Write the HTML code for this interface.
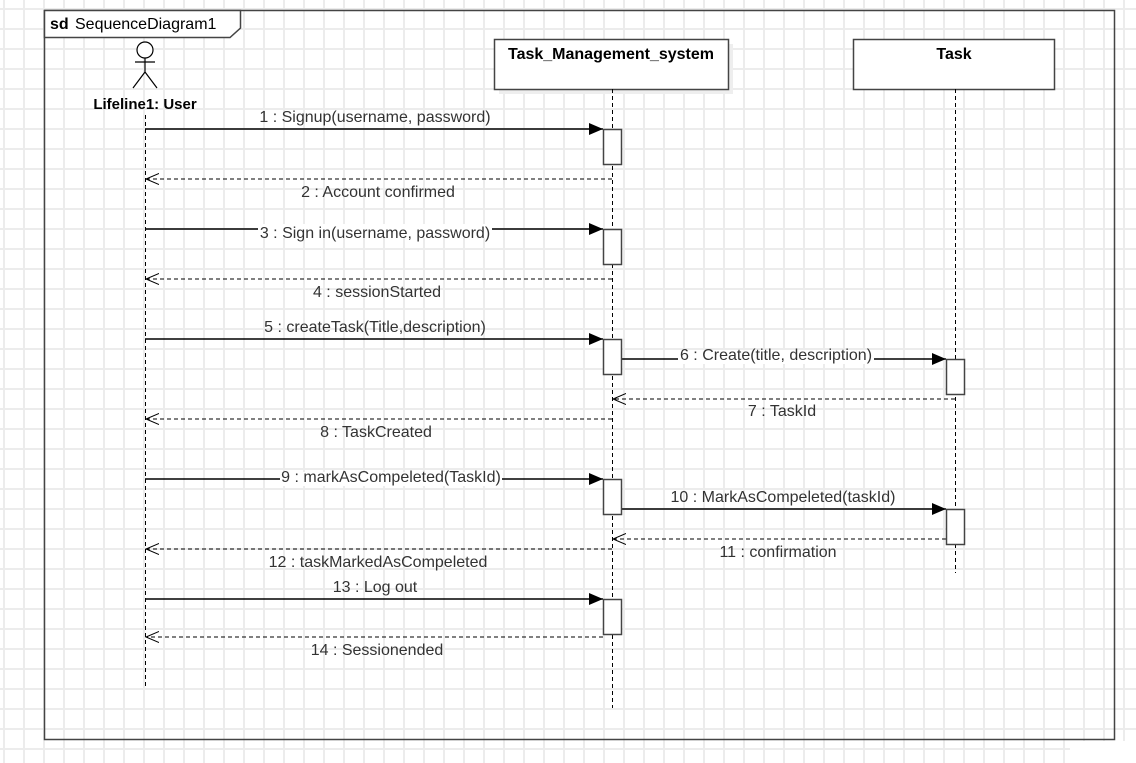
<!DOCTYPE html>
<html><head><style>
body{margin:0;width:1136px;height:763px;overflow:hidden;background:#fff;}
svg{display:block}
text{font-family:"Liberation Sans",Arial,sans-serif;font-size:16px;fill:#333}
</style></head><body>
<svg width="1136" height="763" xmlns="http://www.w3.org/2000/svg">
<defs>
<pattern id="g" x="3" y="8" width="20" height="20" patternUnits="userSpaceOnUse">
<path d="M0 1H20M1 0V20" stroke="#ececec" stroke-width="2" fill="none"/>
</pattern>
<marker id="fa" markerWidth="14" markerHeight="12" refX="14" refY="6" orient="auto" markerUnits="userSpaceOnUse"><path d="M0 0L14 6L0 12Z" fill="#000"/></marker>
<marker id="oa" markerWidth="14" markerHeight="12" refX="13" refY="6" orient="auto" markerUnits="userSpaceOnUse"><path d="M0 0.5L13 6L0 11.5" fill="none" stroke="#000"/></marker>
</defs>
<rect width="1136" height="763" fill="url(#g)"/>
<rect x="1070" y="741" width="66" height="22" fill="#fff"/>
<rect x="44.5" y="10.5" width="1070" height="729" fill="none" stroke="#444" stroke-width="1.5"/>
<path d="M44.5 10.5H240.5V28L230 37.5H44.5Z" fill="#fff" stroke="#444" stroke-width="1.5"/>
<text x="50" y="29" font-weight="bold" style="fill:#000">sd</text>
<text x="75" y="29" style="fill:#000">SequenceDiagram1</text>
<g stroke="#000" fill="none" stroke-width="1.2">
<circle cx="145" cy="50" r="8" fill="#fff"/>
<path d="M145 58V72M135 62H155M145 72L133 88M145 72L157 88"/>
</g>
<text x="145" y="109" text-anchor="middle" font-weight="bold" style="fill:#000;font-size:15px">Lifeline1: User</text>
<rect x="499" y="44" width="234" height="50" fill="#eee"/>
<rect x="494.5" y="39.5" width="234" height="50" fill="#fff" stroke="#444" stroke-width="1.5"/>
<text x="611" y="59" text-anchor="middle" font-weight="bold" style="fill:#000">Task_Management_system</text>
<rect x="853.5" y="39.5" width="201" height="50" fill="#fff" stroke="#444" stroke-width="1.5"/>
<text x="954" y="59" text-anchor="middle" font-weight="bold" style="fill:#000">Task</text>
<g stroke="#000" stroke-dasharray="4,3" stroke-width="1">
<path d="M145.5 115V688M612.5 89V708M955.5 89V573"/>
</g>
<g stroke="#000" stroke-width="1.5" marker-end="url(#fa)">
<path d="M145 129H603"/><path d="M145 229H603"/><path d="M145 339H603"/>
<path d="M621 359H946"/><path d="M145 479H603"/><path d="M621 509H946"/><path d="M145 599H603"/>
</g>
<g stroke="#000" stroke-width="1" stroke-dasharray="4,3" marker-end="url(#oa)" fill="none">
<path d="M612 179H146"/><path d="M612 279H146"/><path d="M955 399H613"/><path d="M612 419H146"/>
<path d="M946 539H613"/><path d="M612 549H146"/><path d="M603 637H146"/>
</g>
<g fill="#fff" stroke="#444" stroke-width="1.5">
<rect x="603.5" y="129.5" width="18" height="35"/><rect x="603.5" y="229.5" width="18" height="35"/>
<rect x="603.5" y="339.5" width="18" height="35"/><rect x="603.5" y="479.5" width="18" height="35"/>
<rect x="603.5" y="599.5" width="18" height="35"/>
<rect x="946.5" y="359.5" width="18" height="35"/><rect x="946.5" y="509.5" width="18" height="35"/>
</g>
<g text-anchor="middle">
<text x="375" y="122">1 : Signup(username, password)</text>
<text x="378" y="197">2 : Account confirmed</text>
<rect x="258" y="224" width="234" height="14" fill="#fff"/>
<text x="375" y="238">3 : Sign in(username, password)</text>
<text x="377" y="297">4 : sessionStarted</text>
<text x="375" y="332">5 : createTask(Title,description)</text>
<rect x="678" y="350" width="196" height="14" fill="#fff"/>
<text x="776" y="360">6 : Create(title, description)</text>
<text x="782" y="416">7 : TaskId</text>
<text x="376" y="437">8 : TaskCreated</text>
<rect x="280" y="472" width="222" height="14" fill="#fff"/>
<text x="391" y="482">9 : markAsCompeleted(TaskId)</text>
<text x="783" y="502">10 : MarkAsCompeleted(taskId)</text>
<text x="778" y="557">11 : confirmation</text>
<text x="378" y="567">12 : taskMarkedAsCompeleted</text>
<text x="375" y="592">13 : Log out</text>
<text x="377" y="655">14 : Sessionended</text>
</g>
</svg>
</body></html>
